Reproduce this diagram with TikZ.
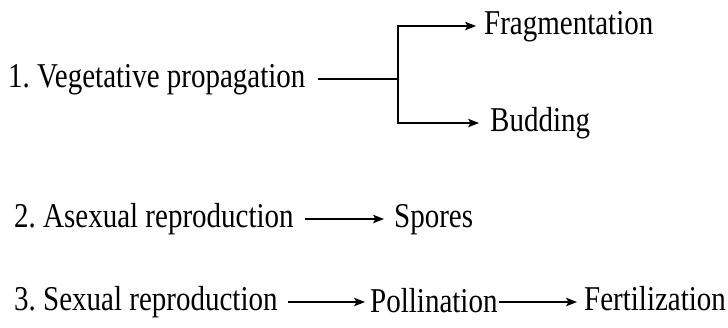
\documentclass[tikz,border=0pt]{standalone}
\usepackage{fontspec}
\setmainfont{Liberation Serif}
\usetikzlibrary{arrows.meta}
\frenchspacing

% labels are set in a slightly elongated serif
\newcommand{\tallword}[1]{\scalebox{1}[1.2]{#1}}

\tikzset{
  lbl/.style={font=\fontsize{29}{34}\selectfont, text height=16pt, text depth=0pt,
              inner sep=0pt, anchor=west},
  link/.style={line width=1.1pt},
  flow/.style={link, -{Stealth[length=11pt,width=8.5pt,inset=2.5pt]}},
}

\begin{document}
\begin{tikzpicture}[x=1pt,y=-1pt]
  \useasboundingbox (0,0) rectangle (728,327);

  % 1. vegetative propagation branches into two
  \node[lbl] (veg)    at (8,79)    {\tallword{1. Vegetative propagation}};
  \coordinate (fork) at (398,79);
  \node[lbl] (frag)   at (484,26)  {\tallword{Fragmentation}};
  \node[lbl] (bud)    at (490,123) {\tallword{Budding}};
  \draw[link, shorten <=12pt] (veg.east) -- (fork);
  \draw[flow, shorten >=8pt]  (fork) |- (frag.west);
  \draw[flow, shorten >=11pt] (fork) |- (bud.west);

  % 2. asexual reproduction
  \node[lbl] (asex)   at (14,219)  {\tallword{2. Asexual reproduction}};
  \node[lbl] (spores) at (394,219) {\tallword{Spores}};
  \draw[flow, shorten <=11pt, shorten >=10pt] (asex.east) -- (spores.west);

  % 3. sexual reproduction
  \node[lbl] (sex)    at (14,302)  {\tallword{3. Sexual reproduction}};
  \node[lbl] (poll)   at (370,304) {\tallword{Pollination}};
  \node[lbl] (fert)   at (584,302) {\tallword{Fertilization}};
  \draw[flow, shorten <=10pt, shorten >=5pt] (sex.east) -- (sex.east -| poll.west);
  \draw[flow, shorten <=1pt, shorten >=7pt]  (poll.east |- fert.west) -- (fert.west);
\end{tikzpicture}
\end{document}
